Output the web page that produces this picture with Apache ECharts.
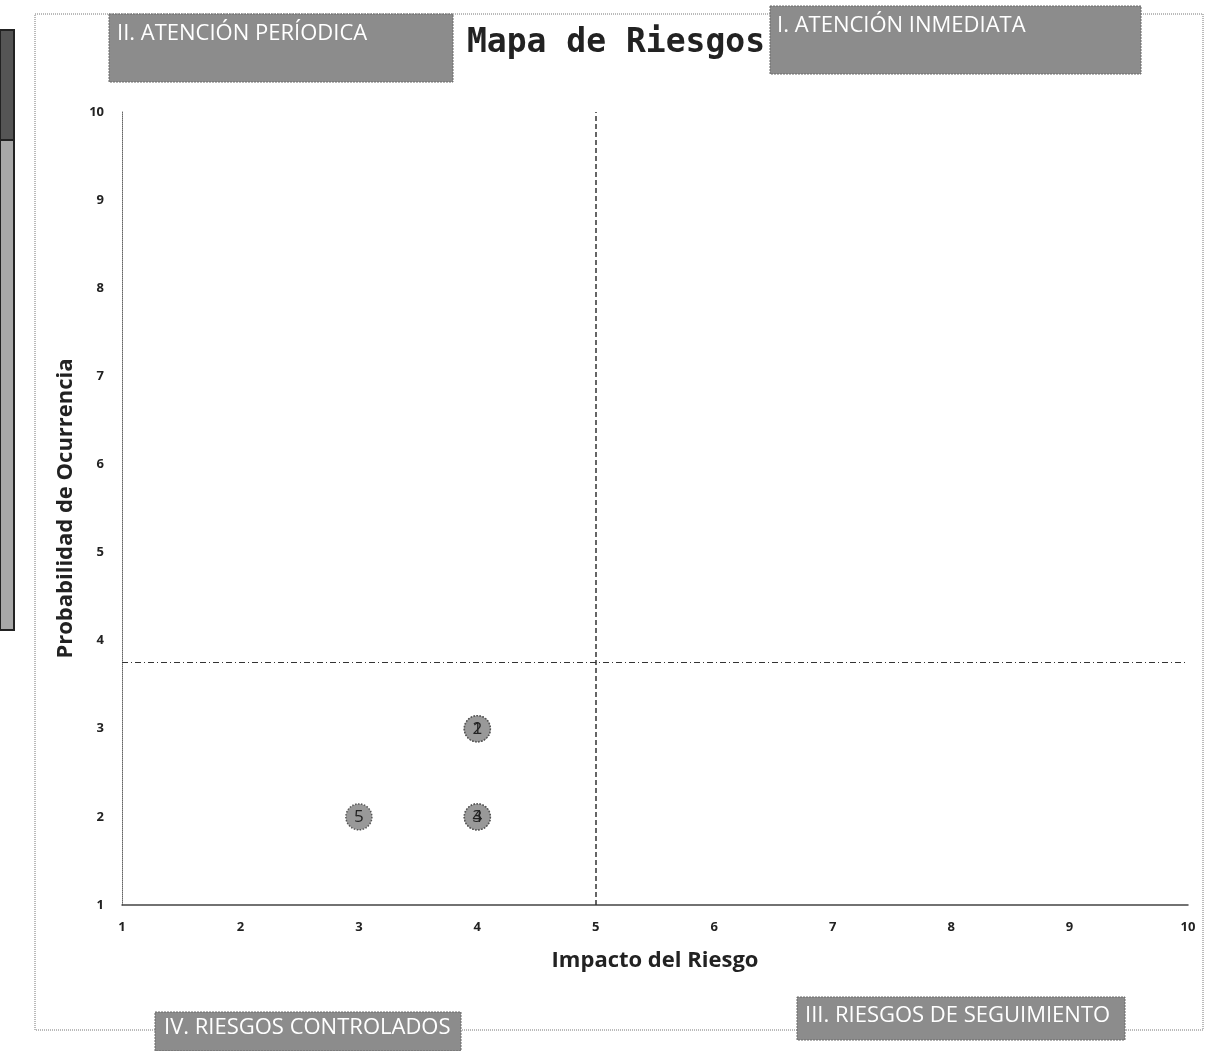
<!DOCTYPE html>
<html><head><meta charset="utf-8">
<script src="https://cdn.jsdelivr.net/npm/echarts@6/dist/echarts.min.js"></script>
<style>html,body{margin:0;padding:0;background:#fff}#c{width:1217px;height:1051px}</style>
</head><body><div id="c"></div>
<script>
const riskIds = ['1','2','3','4','5'];
const impactValues = [4,4,4,4,3];
const probabilityValues = [3,3,2,2,2];
const xTicks = [1,2,3,4,5,6,7,8,9,10];
const yTicks = [1,2,3,4,5,6,7,8,9,10];
const impactThreshold = 5;
const probabilityThreshold = 3.75;
const quadrantLabels = ['II. ATENCIÓN PERÍODICA','I. ATENCIÓN INMEDIATA','IV. RIESGOS CONTROLADOS','III. RIESGOS DE SEGUIMIENTO'];

const chart = echarts.init(document.getElementById('c'));
const boxStyle = {fill:'#8c8c8c', stroke:'#6a6a6a', lineWidth:1, lineDash:[2,1]};
const txtStyle = {fill:'#ffffff', font:'22px "Open Sans", Lato, sans-serif'};
function labelBox(x,y,w,h,text,tx,ty){
  return {type:'group', children:[
    {type:'rect', shape:{x:x,y:y,width:w,height:h}, style:boxStyle},
    {type:'text', x:tx, y:ty, style:Object.assign({text:text}, txtStyle)}
  ]};
}
chart.setOption({
  backgroundColor:'#ffffff',
  animation:false,
  title:{text:'Mapa de Riesgos', left:611, top:22, textAlign:'center',
    textStyle:{fontFamily:'"DejaVu Sans Mono", monospace', fontSize:33, fontWeight:'bold', color:'#222'}},
  grid:{left:122, right:29, top:112, bottom:146},
  xAxis:{type:'value', min:1, max:10, interval:1,
    name:'Impacto del Riesgo', nameLocation:'middle', nameGap:45,
    nameTextStyle:{fontFamily:'"Open Sans", sans-serif', fontWeight:'bold', fontSize:22, color:'#222'},
    axisLine:{lineStyle:{color:'#444', width:1.5}}, axisTick:{show:false}, splitLine:{show:false},
    axisLabel:{fontFamily:'"Open Sans", sans-serif', fontWeight:'bold', fontSize:13, color:'#222', margin:16,
      formatter:v=>xTicks.includes(v)?String(v):''}},
  yAxis:{type:'value', min:1, max:10, interval:1,
    name:'Probabilidad de Ocurrencia', nameLocation:'middle', nameGap:45,
    nameTextStyle:{fontFamily:'"Open Sans", sans-serif', fontWeight:'bold', fontSize:22, color:'#222'},
    axisLine:{show:true, lineStyle:{color:'#666', width:1, type:'dotted'}}, axisTick:{show:false}, splitLine:{show:false},
    axisLabel:{fontFamily:'"Open Sans", sans-serif', fontWeight:'bold', fontSize:13, color:'#222', margin:18,
      formatter:v=>yTicks.includes(v)?String(v):''}},
  series:[{
    type:'scatter',
    data:impactValues.map((x,i)=>({value:[x,probabilityValues[i]], name:riskIds[i]})),
    symbol:'circle', symbolSize:26,
    itemStyle:{color:'#999999', opacity:1, borderColor:'#555', borderWidth:1.5, borderType:'dotted'},
    label:{show:true, position:'inside', formatter:p=>p.name, fontFamily:'"Open Sans", sans-serif', fontSize:17, color:'#222'},
    markLine:{silent:true, symbol:'none', label:{show:false},
      data:[
        {xAxis:impactThreshold, lineStyle:{type:[5,3], color:'#333', width:1.5}},
        {yAxis:probabilityThreshold, lineStyle:{type:[6,3,1,3], color:'#333', width:1.2}}
      ]}
  }],
  graphic:[
    {type:'rect', shape:{x:35,y:14,width:1168,height:1016}, style:{fill:'none', stroke:'#777', lineWidth:1, lineDash:[1,1]}, z:-1},
    {type:'rect', shape:{x:0,y:30,width:14,height:600}, style:{fill:'#a8a8a8', stroke:'#222', lineWidth:2}},
    {type:'rect', shape:{x:0,y:30,width:14,height:110}, style:{fill:'#555', stroke:'#222', lineWidth:2}},
    labelBox(109,14,344,68,quadrantLabels[0],117,23),
    labelBox(770,6,371,68,quadrantLabels[1],777,15),
    labelBox(155,1012,306,39,quadrantLabels[2],164,1017),
    labelBox(797,997,328,43,quadrantLabels[3],805,1005)
  ]
});
</script></body></html>
